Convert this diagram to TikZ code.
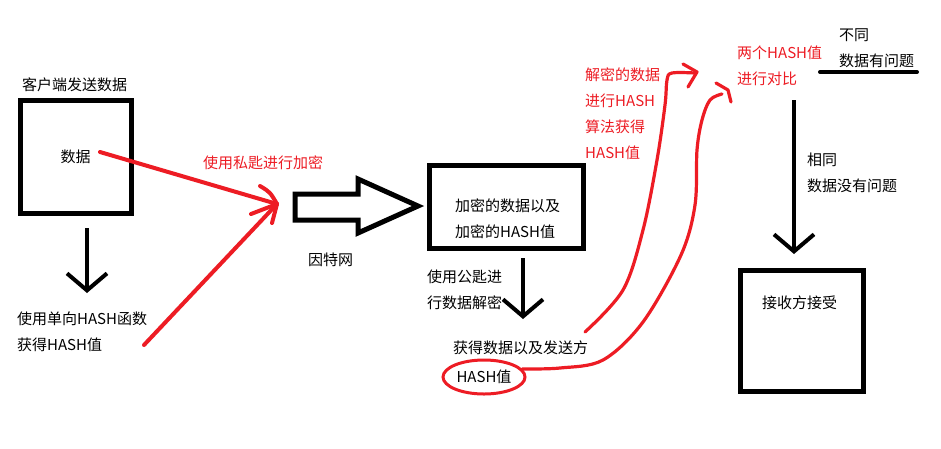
\documentclass[tikz,border=0pt]{standalone}
\usepackage{fontspec}
\setmainfont{Noto Sans CJK SC}
\usetikzlibrary{arrows.meta,shapes.geometric}
\definecolor{pred}{RGB}{237,28,36}
\begin{document}
\begin{tikzpicture}[x=1pt,y=-1pt,
  txt/.style={font=\fontsize{15}{26}\selectfont, inner sep=0pt, anchor=west, align=left},
  rtxt/.style={txt, text=pred},
  box/.style={draw, line width=5pt, inner sep=0pt},
  blkarrow/.style={line width=4pt, -{Straight Barb[length=17pt,width=40pt]}},
  redline/.style={draw=pred, line width=4pt, line cap=round, line join=round},
  redcurve/.style={draw=pred, line width=3.2pt, line cap=round, line join=round},
]
\useasboundingbox[fill=white] (0,0) rectangle (941,448);

% boxes
\node[box, minimum width=111pt, minimum height=113pt, font=\fontsize{15}{16}\selectfont] (b1) at (75.5,156.5) {数据};
\node[box, minimum width=154pt, minimum height=83pt] (b2) at (506,206.5) {};
\node[box, minimum width=123pt, minimum height=121pt] (b3) at (801.5,330.5) {};

% texts
\node[txt] (t1) at (22,85) {客户端发送数据};
\node[txt] (t2) at (17,331.5) {使用单向HASH函数\\获得HASH值};
\node[rtxt] (t3) at (203,163) {使用私匙进行加密};
\node[txt] (t4) at (308,260) {因特网};
\node[txt] (t5) at (455,218.5) {加密的数据以及\\加密的HASH值};
\node[txt] (t6) at (427,289.5) {使用公匙进\\行数据解密};
\node[txt] (t7) at (453,348) {获得数据以及发送方};
\node[draw=pred, line width=3pt, ellipse, inner sep=0pt, minimum width=82pt, minimum height=34pt,
      font=\fontsize{15}{16}\selectfont] (hv) at (484,377) {HASH值};
\node[rtxt] (t8) at (585,114) {解密的数据\\进行HASH\\算法获得\\HASH值};
\node[rtxt] (t9) at (737,66) {两个HASH值\\进行对比};
\node[txt] (t10) at (839,48) {不同\\数据有问题};
\node[txt] (t11) at (807,173) {相同\\数据没有问题};
\node[txt] (t12) at (762,303) {接收方接受};

% coordinates
\coordinate (a1s) at (87,228);
\coordinate (a1e) at (87,293);
\coordinate (a2s) at (523,258);
\coordinate (a2e) at (523,319);
\coordinate (a3s) at (794,100);
\coordinate (a3e) at (794,254);
\coordinate (r1s) at (100,152);
\coordinate (r2s) at (144,345);
\coordinate (rtip) at (277,204);
\coordinate (u1) at (820,72);
\coordinate (u2) at (917,72);

% black arrows
\draw[blkarrow] (a1s) -- (a1e);
\draw[blkarrow] (a2s) -- (a2e);
\draw[blkarrow] (a3s) -- (a3e);
\draw[line width=4pt, line cap=round] (u1) -- (u2);

% hollow arrow (internet)
\draw[line width=5pt, line join=miter] (295,194) -- (358,194) -- (358,179) -- (418,206)
  -- (358,233) -- (358,220) -- (295,220) -- cycle;

% red arrows
\draw[redline] (r1s) -- (rtip);
\draw[redline] (r2s) -- (rtip);
\draw[redline] (251,214) -- (rtip);
\draw[redline] (260,186) .. controls (270,192) .. (rtip) -- (272,223);

% red curve 1
\draw[redcurve] plot[smooth, tension=0.55] coordinates {(585,332) (623,290) (643,230) (657,160) (665,105) (667,80) (672,73) (695,73)};
\draw[redcurve] (683,64) -- (697,72) -- (688,87);

% red curve 2
\draw[redcurve] plot[smooth, tension=0.55] coordinates {(hv.12) (560,368) (603,360) (643,322) (681,255) (695,205) (697,150) (702,120) (710,100) (722,94)};
\draw[redcurve] (716,83) -- (728,90) -- (731,102);
\end{tikzpicture}
\end{document}
